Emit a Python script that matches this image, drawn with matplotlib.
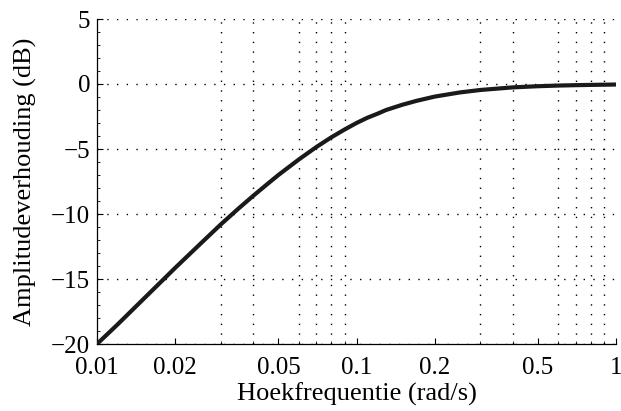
import matplotlib
matplotlib.use("Agg")
import matplotlib.pyplot as plt
from matplotlib.ticker import FixedLocator, FixedFormatter, MultipleLocator, NullFormatter

# values
freq = [0.01, 0.012, 0.015, 0.02, 0.025, 0.03, 0.035, 0.04, 0.045, 0.05, 0.06, 0.07,
        0.08, 0.09, 0.1, 0.11, 0.12, 0.13, 0.15, 0.17, 0.2, 0.25, 0.3, 0.4, 0.5,
        0.6, 0.7, 0.8, 1.0]
amp_db = [-20.0, -18.5, -16.6, -14.15, -12.3, -10.8, -9.6, -8.6, -7.75, -7.0, -5.8, -4.85,
          -4.1, -3.5, -3.0, -2.6, -2.3, -2.0, -1.6, -1.3, -0.97, -0.65, -0.46, -0.26, -0.17,
          -0.12, -0.09, -0.07, -0.04]

xticks = [0.01, 0.02, 0.05, 0.1, 0.2, 0.5, 1]
xtick_labels = ["0.01", "0.02", "0.05", "0.1", "0.2", "0.5", "1"]
yticks = [-20, -15, -10, -5, 0, 5]
ytick_labels = ["\u221220", "\u221215", "\u221210", "\u22125", "0", "5"]

plt.rcParams["font.family"] = ["Liberation Serif", "DejaVu Serif"]

fig = plt.figure(figsize=(6.21, 4.11), dpi=100)
ax = fig.add_axes([97 / 621, 1 - 344 / 411, (616 - 97) / 621, (344 - 19) / 411])

ax.plot(freq, amp_db, color="#1a1a1a", linewidth=3.0, solid_capstyle="butt", zorder=3)

ax.set_xscale("log")
ax.set_xlim(0.01, 1)
ax.set_ylim(-20, 5)

minor = [m * d for d in (0.01, 0.1) for m in range(1, 10)] + [1.0]
ax.xaxis.set_major_locator(FixedLocator(xticks))
ax.xaxis.set_major_formatter(FixedFormatter(xtick_labels))
ax.xaxis.set_minor_locator(FixedLocator(minor))
ax.xaxis.set_minor_formatter(NullFormatter())
ax.yaxis.set_major_locator(FixedLocator(yticks))
ax.yaxis.set_major_formatter(FixedFormatter(ytick_labels))
ax.yaxis.set_minor_locator(MultipleLocator(1))

ax.grid(True, which="major", axis="y", linestyle=(0, (1, 6)), color="black", linewidth=1.0)
ax.grid(True, which="minor", axis="x", linestyle=(0, (1, 6)), color="black", linewidth=1.0)

for s in ("top", "right"):
    ax.spines[s].set_visible(False)
ax.spines["left"].set_linewidth(0.9)
ax.spines["bottom"].set_linewidth(0.9)

ax.tick_params(which="both", direction="in", labelsize=18)
ax.tick_params(axis="x", pad=9)
ax.tick_params(axis="y", pad=5)
ax.tick_params(which="major", length=4)
ax.tick_params(which="minor", length=2.5)

ax.set_xlabel("Hoekfrequentie (rad/s)", fontsize=19, labelpad=3)
ax.set_ylabel("Amplitudeverhouding (dB)", fontsize=19, labelpad=10)

fig.savefig("out.png", dpi=100)
